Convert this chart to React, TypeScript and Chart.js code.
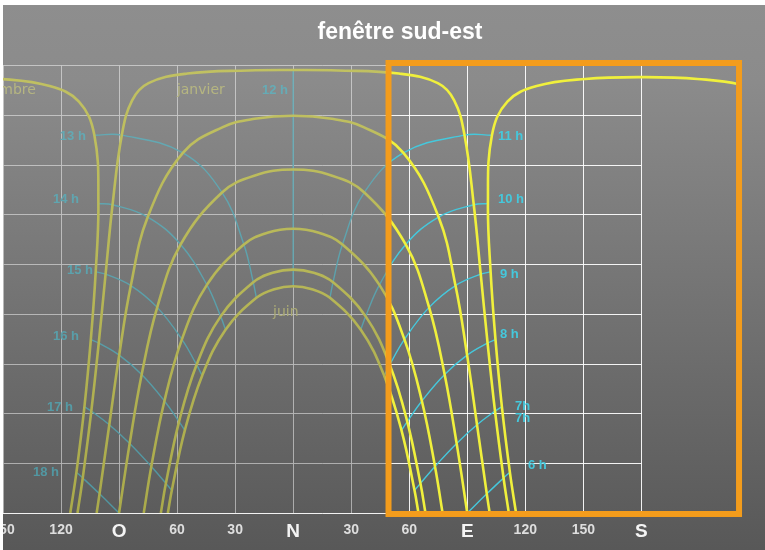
import React, { useEffect, useRef } from "react";
import { Chart, registerables } from "chart.js";

Chart.register(...registerables);

const TITLE = "fenêtre sud-est";

// x axis: azimuth (west negative, east positive), y axis: sun altitude
const AZ_MIN = -150;
const AZ_MAX = 231;
const ALT_MIN = 0;
const ALT_MAX = 90;
const AZ_TICKS = [-150, -120, -90, -60, -30, 0, 30, 60, 90, 120, 150, 180];
const AZ_TICK_LABELS = ["150", "120", "O", "60", "30", "N", "30", "60", "E", "120", "150", "S"];
const ALT_GRID = [0, 10, 20, 30, 40, 50, 60, 70, 80, 90];

// window opening (orange frame)
const WINDOW_AZ = [49.3, 230.5];
const WINDOW_ALT = [-0.2, 90.4];

// sun paths: solar time, azimuth, altitude
const JUN_T = [6.64, 7, 8, 9, 10, 11, 11.5, 12, 12.5, 13, 14, 15, 16, 17, 17.36];
const JUN_AZ = [64.78, 62.75, 56.01, 47.05, 34.96, 19.01, 9.74, 0, -9.74, -19.01, -34.96, -47.05, -56.01, -62.75, -64.78];
const JUN_ALT = [0, 4.54, 16.6, 27.59, 36.82, 43.22, 44.96, 45.56, 44.96, 43.22, 36.82, 27.59, 16.6, 4.54, 0];

const MAY_T = [6.54, 7, 8, 9, 10, 11, 11.5, 12, 12.5, 13, 14, 15, 16, 17, 17.46];
const MAY_AZ = [68.4, 65.79, 58.98, 49.92, 37.48, 20.62, 10.61, 0, -10.61, -20.62, -37.48, -49.92, -58.98, -65.79, -68.4];
const MAY_ALT = [0, 5.96, 18.37, 29.79, 39.5, 46.36, 48.25, 48.9, 48.25, 46.36, 39.5, 29.79, 18.37, 5.96, 0];

const APR_T = [6.31, 7, 8, 9, 10, 11, 11.5, 12, 12.5, 13, 14, 15, 16, 17, 17.69];
const APR_AZ = [77.24, 73.32, 66.54, 57.52, 44.6, 25.48, 13.32, 0, -13.32, -25.48, -44.6, -57.52, -66.54, -73.32, -77.24];
const APR_ALT = [0, 9.35, 22.51, 34.89, 45.83, 53.95, 56.29, 57.1, 56.29, 53.95, 45.83, 34.89, 22.51, 9.35, 0];

const MAR_T = [6, 7, 8, 9, 10, 11, 11.5, 12, 12.5, 13, 14, 15, 16, 17, 18];
const MAR_AZ = [90, 84.51, 78.31, 70.28, 58.17, 36.78, 20.15, 0, -20.15, -36.78, -58.17, -70.28, -78.31, -84.51, -90];
const MAR_ALT = [0, 13.98, 27.83, 41.31, 53.95, 64.39, 67.77, 69, 67.77, 64.39, 53.95, 41.31, 27.83, 13.98, 0];

const FEB_T = [5.72, 6, 7, 8, 9, 10, 11, 11.5, 11.75, 12, 12.25, 12.5, 13, 14, 15, 16, 17, 18, 18.28];
const FEB_AZ = [101.58, 100.1, 95.05, 89.93, 83.92, 75.18, 57, 36.38, 19.97, 0, -19.97, -36.38, -57, -75.18, -83.92, -89.93, -95.05, -100.1, -101.58];
const FEB_ALT = [0, 3.85, 17.73, 31.71, 45.69, 59.46, 72.35, 77.52, 79.19, 79.8, 79.19, 77.52, 72.35, 59.46, 45.69, 31.71, 17.73, 3.85, 0];

const JAN_T = [5.46, 6, 7, 8, 9, 10, 11, 11.5, 11.75, 11.9, 11.97, 12, 12.03, 12.1, 12.25, 12.5, 13, 14, 15, 16, 17, 18, 18.54];
const JAN_AZ = [111.49, 108.77, 104.35, 100.51, 96.97, 93.37, 88.59, 83.23, 74.77, 54.7, 23, 0, -23, -54.7, -74.77, -83.23, -88.59, -93.37, -96.97, -100.51, -104.35, -108.77, -111.49];
const JAN_ALT = [0, 7.04, 20.46, 34.14, 47.98, 61.93, 75.91, 82.91, 86.35, 88.28, 88.91, 89, 88.91, 88.28, 86.35, 82.91, 75.91, 61.93, 47.98, 34.14, 20.46, 7.04, 0];

const DEC_AM_T = [5.36, 6, 7, 8, 9, 10, 11, 11.5, 11.75, 11.9, 12, 12.1, 12.25, 12.5];
const DEC_AM_AZ = [115.22, 112.03, 107.9, 104.6, 102.08, 100.69, 102.76, 110.75, 125.86, 150.97, 180, 209.03, 234.14, 249.25];
const DEC_AM_ALT = [0, 8.2, 21.36, 34.81, 48.44, 62.18, 75.9, 82.65, 85.76, 87.2, 87.56, 87.2, 85.76, 82.65];

const DEC_PM_T = [11.9, 12, 12.1, 12.25, 12.5, 13, 14, 15, 16, 17, 18, 18.64];
const DEC_PM_AZ = [-209.03, -180, -150.97, -125.86, -110.75, -102.76, -100.69, -102.08, -104.6, -107.9, -112.03, -115.22];
const DEC_PM_ALT = [87.2, 87.56, 87.2, 85.76, 82.65, 75.9, 62.18, 48.44, 34.81, 21.36, 8.2, 0];

const HOURS = [6, 7, 8, 9, 10, 11, 12, 13, 14, 15, 16, 17, 18];

// text labels
const HOUR_LABELS = ["6 h", "7h", "7h", "8 h", "9 h", "10 h", "11 h", "12 h", "13 h", "14 h", "15 h", "16 h", "17 h", "18 h"];
const HOUR_LABEL_AZ = [121.4, 114.7, 114.7, 106.9, 106.9, 105.9, 105.9, -16.1, -120.6, -124.2, -116.9, -124.2, -127.3, -134.5];
const HOUR_LABEL_ALT = [9.6, 21.5, 18.9, 35.8, 48.0, 62.9, 75.7, 84.8, 75.6, 62.9, 48.8, 35.4, 21.3, 8.2];

const MONTH_LABELS = ["décembre", "janvier", "juin"];
const MONTH_LABEL_AZ = [-133.0, -60.1, -10.4];
const MONTH_LABEL_ALT = [85.0, 85.0, 40.4];
const MONTH_LABEL_ALIGN = ["right", "left", "left"];

const SUN_COLOR = "#f0f03c";
const HOUR_COLOR = "#45c8dc";

type Series = { t: number[]; az: number[]; alt: number[] };
const SERIES: Series[] = [
  { t: JUN_T, az: JUN_AZ, alt: JUN_ALT },
  { t: MAY_T, az: MAY_AZ, alt: MAY_ALT },
  { t: APR_T, az: APR_AZ, alt: APR_ALT },
  { t: MAR_T, az: MAR_AZ, alt: MAR_ALT },
  { t: FEB_T, az: FEB_AZ, alt: FEB_ALT },
  { t: JAN_T, az: JAN_AZ, alt: JAN_ALT },
  { t: DEC_AM_T, az: DEC_AM_AZ, alt: DEC_AM_ALT },
  { t: DEC_PM_T, az: DEC_PM_AZ, alt: DEC_PM_ALT },
];

function toPoints(s: Series) {
  return s.az.map((a, i) => ({ x: a, y: s.alt[i] }));
}

function hourLine(h: number) {
  const pts: { x: number; y: number }[] = [];
  SERIES.forEach((s) => {
    const i = s.t.indexOf(h);
    if (i >= 0 && Math.abs(s.az[i]) < 170) pts.push({ x: s.az[i], y: s.alt[i] });
  });
  return pts;
}

function isCardinal(v: number) {
  return v === -90 || v === 0 || v === 90 || v === 180;
}

function bgGradient(ctx: CanvasRenderingContext2D, h: number, alpha: number) {
  const g = ctx.createLinearGradient(0, 0, 0, h);
  g.addColorStop(0, `rgba(142,142,142,${alpha})`);
  g.addColorStop(0.15, `rgba(139,139,139,${alpha})`);
  g.addColorStop(1, `rgba(88,88,88,${alpha})`);
  return g;
}

const bgPlugin = {
  id: "bgPlugin",
  beforeDraw(chart: any) {
    const { ctx, width, height } = chart;
    ctx.save();
    ctx.fillStyle = bgGradient(ctx, height, 1);
    ctx.fillRect(0, 0, width, height);
    ctx.restore();
  },
};

const hGridPlugin = {
  id: "hGridPlugin",
  beforeDatasetsDraw(chart: any) {
    const { ctx } = chart;
    const xs = chart.scales.x;
    const ys = chart.scales.y;
    const x0 = xs.getPixelForValue(AZ_TICKS[0]);
    const x1 = xs.getPixelForValue(AZ_TICKS[AZ_TICKS.length - 1]);
    ctx.save();
    ctx.strokeStyle = "rgba(255,255,255,0.92)";
    ctx.lineWidth = 1;
    ALT_GRID.forEach((a) => {
      const y = Math.round(ys.getPixelForValue(a)) + 0.5;
      ctx.beginPath();
      ctx.moveTo(x0, y);
      ctx.lineTo(x1, y);
      ctx.stroke();
    });
    ctx.restore();
  },
};

const overlayPlugin = {
  id: "overlayPlugin",
  afterDatasetsDraw(chart: any) {
    const { ctx, chartArea, height } = chart;
    const xs = chart.scales.x;
    const ys = chart.scales.y;
    ctx.save();
    ctx.textBaseline = "middle";
    // hour labels
    ctx.font = 'bold 13px "Liberation Sans"';
    ctx.fillStyle = HOUR_COLOR;
    ctx.textAlign = "left";
    HOUR_LABELS.forEach((t, i) => {
      ctx.fillText(t, xs.getPixelForValue(HOUR_LABEL_AZ[i]), ys.getPixelForValue(HOUR_LABEL_ALT[i]));
    });
    // month labels
    ctx.font = '14px "DejaVu Sans"';
    ctx.fillStyle = "rgb(220,220,120)";
    MONTH_LABELS.forEach((t, i) => {
      ctx.textAlign = MONTH_LABEL_ALIGN[i] as CanvasTextAlign;
      ctx.fillText(t, xs.getPixelForValue(MONTH_LABEL_AZ[i]), ys.getPixelForValue(MONTH_LABEL_ALT[i]));
    });
    // fade everything outside the window
    const wl = xs.getPixelForValue(WINDOW_AZ[0]);
    ctx.fillStyle = bgGradient(ctx, height, 0.47);
    ctx.fillRect(0, chartArea.top, wl - 3, chartArea.bottom - chartArea.top);
    // window frame
    const wr = xs.getPixelForValue(WINDOW_AZ[1]);
    const wt = ys.getPixelForValue(WINDOW_ALT[1]);
    const wb = ys.getPixelForValue(WINDOW_ALT[0]);
    ctx.strokeStyle = "#f39c1c";
    ctx.lineWidth = 6;
    ctx.strokeRect(wl, wt, wr - wl, wb - wt);
    ctx.restore();
  },
};

const titlePlugin = {
  id: "titlePlugin",
  afterDraw(chart: any) {
    const { ctx, width, height, chartArea } = chart;
    const xs = chart.scales.x;
    ctx.save();
    // azimuth tick labels
    ctx.textAlign = "center";
    ctx.textBaseline = "middle";
    AZ_TICKS.forEach((v, i) => {
      const big = isCardinal(v);
      ctx.font = big ? 'bold 19px "Liberation Sans"' : 'bold 14px "Liberation Sans"';
      ctx.fillStyle = big ? "#f4f4f4" : "#dedede";
      ctx.fillText(AZ_TICK_LABELS[i], xs.getPixelForValue(v), chartArea.bottom + (big ? 19 : 17));
    });
    // title
    ctx.font = 'bold 23px "Liberation Sans"';
    ctx.fillStyle = "#ffffff";
    ctx.fillText(TITLE, 400, 33);
    ctx.fillRect(0, 0, width, 5);
    ctx.fillRect(0, 0, 3, height);
    ctx.restore();
  },
};

export default function App() {
  const ref = useRef<HTMLCanvasElement | null>(null);

  useEffect(() => {
    const canvas = ref.current;
    if (!canvas) return;

    const sunDatasets = SERIES.map((s) => ({
      data: toPoints(s),
      borderColor: SUN_COLOR,
      borderWidth: 2.6,
      pointRadius: 0,
      tension: 0.4,
      fill: false,
    }));
    const hourDatasets = HOURS.map((h) => ({
      data: hourLine(h),
      borderColor: HOUR_COLOR,
      borderWidth: 1.4,
      pointRadius: 0,
      tension: 0.4,
      fill: false,
    }));

    const chart = new Chart(canvas, {
      type: "line",
      data: { datasets: [...sunDatasets, ...hourDatasets] as any },
      options: {
        responsive: false,
        devicePixelRatio: 1,
        animation: false,
        events: [],
        layout: { padding: { left: 3, right: 25, top: 65, bottom: 0 }, autoPadding: false } as any,
        plugins: { legend: { display: false }, tooltip: { enabled: false }, title: { display: false } },
        scales: {
          x: {
            type: "linear",
            min: AZ_MIN,
            max: AZ_MAX,
            position: "bottom",
            afterBuildTicks: (scale: any) => {
              scale.ticks = AZ_TICKS.map((v) => ({ value: v }));
            },
            afterFit: (scale: any) => {
              scale.height = 37;
            },
            border: { display: false },
            grid: { color: "rgba(255,255,255,0.92)", lineWidth: 1, drawTicks: false },
            ticks: { display: false },
          },
          y: {
            type: "linear",
            min: ALT_MIN,
            max: ALT_MAX,
            display: false,
          },
        },
      } as any,
      plugins: [bgPlugin, hGridPlugin, overlayPlugin, titlePlugin],
    });

    return () => chart.destroy();
  }, []);

  return (
    <div style={{ position: "fixed", left: 0, top: 0, width: 765, height: 550 }}>
      <canvas ref={ref} width={765} height={550} style={{ display: "block", width: 765, height: 550 }} />
    </div>
  );
}
